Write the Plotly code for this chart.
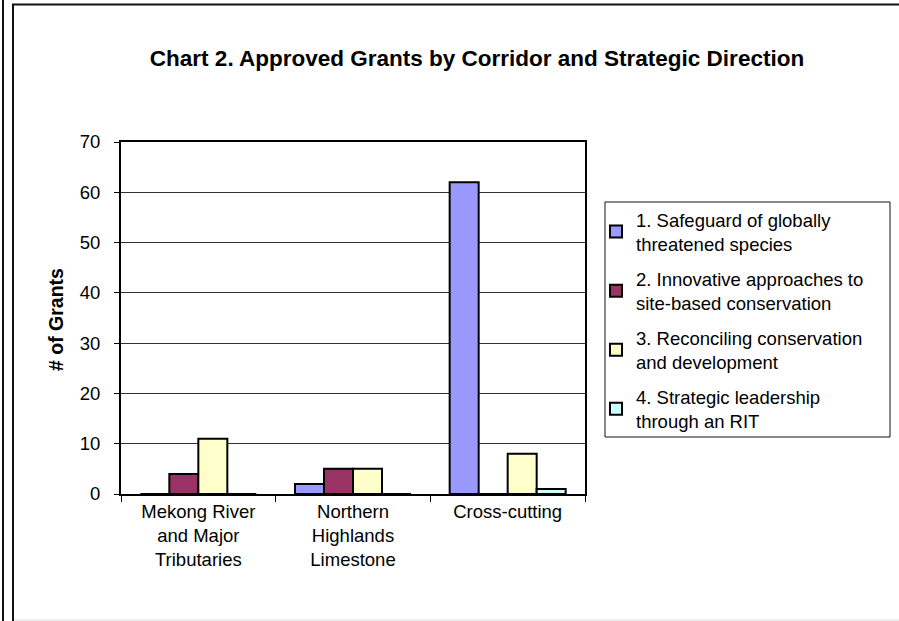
import plotly.graph_objects as go

categories = ["Mekong River<br>and Major<br>Tributaries", "Northern<br>Highlands<br>Limestone", "Cross-cutting"]
series_names = [
    "1. Safeguard of globally<br>threatened species",
    "2. Innovative approaches to<br>site-based conservation",
    "3. Reconciling conservation<br>and development",
    "4. Strategic leadership<br>through an RIT",
]
s1 = [0, 2, 62]
s2 = [4, 5, 0]
s3 = [11, 5, 8]
s4 = [0, 0, 1]
colors = ["#9999FF", "#993366", "#FFFFCC", "#CCFFFF"]
y_ticks = [0, 10, 20, 30, 40, 50, 60, 70]

W, H = 899, 621
L, R, T, B = 121, 585, 142, 494

def px(x):
    return (x - L) / (R - L)

def py(y):
    return (B - y) / (B - T)

fig = go.Figure()
for name, vals, col in zip(series_names, [s1, s2, s3, s4], colors):
    fig.add_trace(go.Bar(x=categories, y=vals, name=name, legendgroup=name,
                         marker=dict(color=col, line=dict(color="#000000", width=2))))

font = "Liberation Sans, Arial, sans-serif"
fig.update_layout(
    width=W, height=H,
    margin=dict(l=L, r=W - R, t=T, b=H - B),
    paper_bgcolor="white", plot_bgcolor="white",
    barmode="group", bargap=0.25, bargroupgap=0,
    font=dict(family=font, size=18, color="#000000"),
    title=dict(text="<b>Chart 2. Approved Grants by Corridor and Strategic Direction</b>",
               x=px(477), xref="paper", xanchor="center",
               y=1 - 58 / H, yref="container", yanchor="middle",
               font=dict(size=22.5, family=font, color="#000000")),
    showlegend=True,
    legend=dict(x=px(596), y=py(201), xanchor="left", yanchor="top",
                borderwidth=0, bgcolor="rgba(0,0,0,0)",
                font=dict(size=18.5, family=font), tracegroupgap=8,
                itemwidth=30, traceorder="grouped"),
    xaxis=dict(showline=True, linecolor="#000000", linewidth=2, mirror=True,
               ticks="outside", tickson="boundaries", ticklen=6, tickcolor="#000000",
               tickfont=dict(size=18.5), showgrid=False),
    yaxis=dict(range=[0, 70], tickvals=y_ticks, showline=True, linecolor="#000000",
               linewidth=2, mirror=True, ticks="outside", ticklen=5, tickcolor="#000000",
               showgrid=True, gridcolor="#333333", gridwidth=1, zeroline=False,
               tickfont=dict(size=18.5), ticklabelstandoff=10),
    annotations=[dict(text="<b># of Grants</b>", x=px(56), y=py(320), xref="paper", yref="paper",
                      textangle=-90, showarrow=False, font=dict(size=19.5, family=font),
                      xanchor="center", yanchor="middle")],
    shapes=[
        dict(type="rect", xref="paper", yref="paper", x0=px(605), x1=px(890), y0=py(202), y1=py(437),
             line=dict(color="#111111", width=1), layer="below"),
        dict(type="line", xref="paper", yref="paper", x0=px(3), x1=px(3), y0=py(0), y1=py(621),
             line=dict(color="#111111", width=2)),
        dict(type="line", xref="paper", yref="paper", x0=px(13), x1=px(13), y0=py(4), y1=py(621),
             line=dict(color="#111111", width=2)),
        dict(type="line", xref="paper", yref="paper", x0=px(12), x1=px(905), y0=py(4.5), y1=py(4.5),
             line=dict(color="#111111", width=2)),
        dict(type="line", xref="paper", yref="paper", x0=px(14), x1=px(905), y0=py(620), y1=py(620),
             line=dict(color="#DDDDDD", width=1)),
    ],
)

fig.write_html("out.html", config={"displayModeBar": False},
               post_script="document.body.style.margin='0px';document.body.style.overflow='hidden';")
